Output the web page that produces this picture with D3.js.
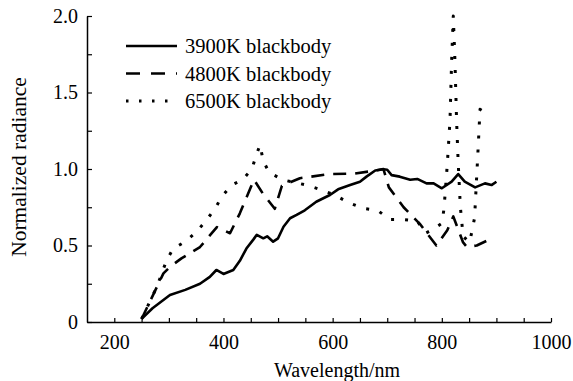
<!DOCTYPE html>
<html lang="en">
<head>
    <meta charset="UTF-8">
    <title>Normalized radiance</title>
    <script src="https://cdn.jsdelivr.net/npm/d3@7/dist/d3.min.js"></script>
    <style>
        body { margin: 0; background: #fff; }
        text { font-family: "Liberation Serif", "Times New Roman", serif; fill: #000; }
    </style>
</head>
<body>
<script>
    // 数据
    var wl3900 = [250, 270, 302, 330, 357, 375, 387, 400, 418, 430, 442, 455, 461, 473, 480, 491, 500, 510, 522, 534, 549, 570, 595, 610, 632, 650, 662, 678, 693, 700, 708, 723, 742, 755, 772, 785, 800, 818, 830, 842, 861, 879, 891, 900];
    var r3900 = [0.02, 0.09, 0.176, 0.21, 0.25, 0.295, 0.34, 0.314, 0.34, 0.40, 0.48, 0.54, 0.57, 0.547, 0.56, 0.525, 0.547, 0.623, 0.678, 0.70, 0.73, 0.786, 0.83, 0.867, 0.895, 0.917, 0.95, 0.99, 0.998, 0.995, 0.96, 0.95, 0.93, 0.935, 0.906, 0.906, 0.874, 0.917, 0.967, 0.917, 0.88, 0.906, 0.895, 0.917];

    var wl4800 = [250, 290, 302, 323, 357, 388, 412, 430, 450, 456, 472, 494, 507, 540, 595, 640, 678, 693, 703, 730, 760, 790, 810, 821, 839, 846, 864, 882];
    var r4800 = [0.02, 0.318, 0.36, 0.416, 0.49, 0.62, 0.58, 0.71, 0.88, 0.93, 0.84, 0.74, 0.89, 0.94, 0.967, 0.97, 0.99, 1.0, 0.88, 0.75, 0.64, 0.50, 0.60, 0.69, 0.52, 0.49, 0.50, 0.53];

    var wl6500 = [250, 278, 296, 308, 330, 351, 369, 385, 397, 415, 435, 452, 461, 467, 473, 484, 510, 552, 580, 604, 629, 656, 682, 705, 729, 755, 770, 781, 800, 804, 810, 815, 818, 821, 824, 827, 830, 834, 839, 851, 860, 866, 870, 885];
    var r6500 = [0.02, 0.23, 0.405, 0.48, 0.525, 0.59, 0.667, 0.743, 0.82, 0.895, 0.93, 1.0, 1.10, 1.157, 1.05, 0.976, 0.928, 0.895, 0.863, 0.83, 0.78, 0.743, 0.73, 0.67, 0.67, 0.66, 0.58, 0.60, 0.645, 0.74, 1.03, 1.32, 1.71, 2.0, 1.71, 1.32, 1.04, 0.75, 0.56, 0.52, 0.68, 1.1, 1.39, 1.36];

    var seriesNames = ["3900K blackbody", "4800K blackbody", "6500K blackbody"];
    var xTicks = [200, 250, 300, 350, 400, 450, 500, 550, 600, 650, 700, 750, 800, 850, 900, 950, 1000];
    var xLabels = [200, 400, 600, 800, 1000];
    var yTicks = [0, 0.25, 0.5, 0.75, 1.0, 1.25, 1.5, 1.75, 2.0];
    var yLabels = [0, 0.5, 1.0, 1.5, 2.0];

    // 画布
    var width = 573;
    var height = 381;
    var margin = {left: 87, right: 22, top: 16, bottom: 59};

    var svg = d3.select("body")
        .append("svg")
        .attr("width", width)
        .attr("height", height);

    var x = d3.scaleLinear().domain([150, 1000]).range([margin.left, width - margin.right]);
    var y = d3.scaleLinear().domain([0, 2]).range([height - margin.bottom, margin.top]);

    // 坐标轴
    var xAxis = d3.axisBottom(x)
        .tickValues(xTicks)
        .tickSizeInner(-4)
        .tickSizeOuter(0)
        .tickPadding(13)
        .tickFormat(function (d) { return xLabels.indexOf(d) >= 0 ? d : ""; });

    var yAxis = d3.axisLeft(y)
        .tickValues(yTicks)
        .tickSizeInner(-5)
        .tickSizeOuter(0)
        .tickPadding(9)
        .tickFormat(function (d) {
            if (yLabels.indexOf(d) < 0) return "";
            return d === 0 ? "0" : d3.format(".1f")(d);
        });

    var gx = svg.append("g")
        .attr("transform", "translate(0," + y(0) + ")")
        .call(xAxis);
    var gy = svg.append("g")
        .attr("transform", "translate(" + x(150) + ",0)")
        .call(yAxis);

    [gx, gy].forEach(function (g) {
        g.attr("font-family", null);
        g.select(".domain").attr("stroke", "#000").attr("stroke-width", 1.5);
        g.selectAll(".tick line").attr("stroke", "#000").attr("stroke-width", 1.2);
        g.selectAll(".tick text")
            .style("font-family", "'Liberation Serif', 'Times New Roman', serif")
            .style("font-size", "20px")
            .attr("fill", "#000");
    });
    gx.selectAll(".tick text").attr("dy", "0.71em");

    // 轴标题
    svg.append("text")
        .attr("transform", "translate(26," + 167 + ") rotate(-90)")
        .attr("text-anchor", "middle")
        .style("font-size", "21.5px")
        .text("Normalized radiance");

    svg.append("text")
        .attr("x", 337)
        .attr("y", 377)
        .attr("text-anchor", "middle")
        .style("font-size", "20px")
        .text("Wavelength/nm");

    // 曲线
    var styles = [
        {dash: null, width: 2.6},
        {dash: "13,9", width: 2.6},
        {dash: "3,11", width: 3}
    ];
    var series = [
        d3.zip(wl3900, r3900),
        d3.zip(wl4800, r4800),
        d3.zip(wl6500, r6500)
    ];

    var line = d3.line()
        .x(function (d) { return x(d[0]); })
        .y(function (d) { return y(d[1]); });

    series.forEach(function (data, i) {
        svg.append("path")
            .datum(data)
            .attr("d", line)
            .attr("fill", "none")
            .attr("stroke", "#000")
            .attr("stroke-width", styles[i].width)
            .attr("stroke-linejoin", "round")
            .attr("stroke-dasharray", styles[i].dash);
    });

    // 图例
    var legend = svg.append("g");
    seriesNames.forEach(function (name, i) {
        var ly = 46 + i * 27.5;
        legend.append("line")
            .attr("x1", 126)
            .attr("x2", 177)
            .attr("y1", ly)
            .attr("y2", ly)
            .attr("stroke", "#000")
            .attr("stroke-width", styles[i].width)
            .attr("stroke-dasharray", i === 1 ? "14,11" : (i === 2 ? "2.5,10.5" : null));
        legend.append("text")
            .attr("x", 185)
            .attr("y", ly)
            .attr("dy", "0.35em")
            .style("font-size", "20.5px")
            .text(name);
    });
</script>
</body>
</html>
